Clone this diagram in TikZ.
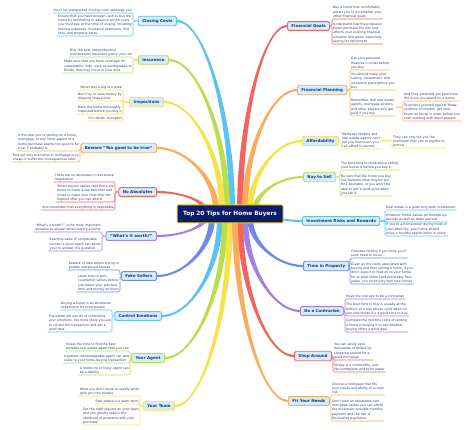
\documentclass[tikz,border=0pt]{standalone}
\usepackage{fontspec}
\setmainfont{DejaVu Sans}
\usetikzlibrary{calc,backgrounds,positioning}
\definecolor{cRed}{HTML}{F2645C}
\definecolor{cOrange}{HTML}{F9AC5E}
\definecolor{cYellow}{HTML}{F6E24C}
\definecolor{cGreen}{HTML}{BADD4E}
\definecolor{cSky}{HTML}{5DC3EE}
\definecolor{cBlue}{HTML}{7088E6}
\definecolor{cPurple}{HTML}{A57FE8}
\definecolor{tFill}{HTML}{D5EEFB}
\definecolor{tText}{HTML}{1B3675}
\definecolor{nText}{HTML}{2A3A78}
\definecolor{rFill}{HTML}{0B1C6A}
\definecolor{rLine}{HTML}{F3D319}
\colorlet{br}{cSky}

% tapered branch: root point #1, topic anchor #2
\newcommand{\branch}[2]{%
  \begin{pgfonlayer}{background}
  \fill[br] let \p1=(#1), \p2=(#2), \n1={((\x2-\x1)/100*(\y2-\y1)/100>0)*2-1} in
    (\x2,\y2+1.1pt) .. controls ({(\x1+\x2)/2},\y2+1.1pt) and (\x1-\n1*3pt,{(\y1+\y2)/2}) ..
    (\x1-\n1*3pt,\y1) -- (\x1+\n1*3pt,\y1) .. controls (\x1+\n1*3pt,{(\y1+\y2)/2}) and ({(\x1+\x2)/2},\y2-1.1pt) ..
    (\x2,\y2-1.1pt) -- cycle;
  \end{pgfonlayer}}
% notes hanging on the left / right of a topic
\newcommand{\lnote}[4]{%
  \node[tnote,anchor=south east] (#1) at (#3) {#4};
  \draw[tline] (#2.west) -| (#1.south east) -- (#1.south west);}
\newcommand{\rnote}[4]{%
  \node[tnote,anchor=south west] (#1) at (#3) {#4};
  \draw[tline] (#2.east) -| (#1.south west) -- (#1.south east);}

\begin{document}
\begin{tikzpicture}[x=1pt,y=-1pt,
  root/.style={fill=rFill,draw=rLine,line width=1pt,rounded corners=1pt,text=white,
    font=\fontsize{5.8}{6}\selectfont\bfseries,minimum width=106pt,minimum height=18pt},
  topic/.style={draw=br,fill=tFill,line width=.9pt,rounded corners=1.5pt,text=tText,
    font=\fontsize{4}{5}\selectfont\bfseries,inner xsep=4pt,inner ysep=2.8pt},
  tnote/.style={font=\fontsize{3.2}{4.2}\selectfont,text=nText,align=left,
    inner xsep=1pt,inner ysep=.8pt},
  tline/.style={draw=br,line width=.6pt,rounded corners=1.5pt}]

\useasboundingbox (0,0) rectangle (474,430);
\node[root] (root) at (230,214) {Top 20 Tips for Home Buyers};

% left side
\colorlet{br}{cSky}
\node[topic,anchor=east] (cc) at (177,21) {Closing Costs};
\branch{232,210}{cc.east}
\lnote{c1}{cc}{133,13}{Don't let unexpected closing costs sabotage you}
\lnote{c2}{cc}{133,36}{Ensure that you have enough cash to buy the\\home by estimating in advance all the costs\\you must pay at the time of closing, including\\moving expenses, insurance premiums, title\\fees, and property taxes}

\colorlet{br}{cGreen}
\node[topic,anchor=east] (ins) at (169,60) {Insurance};
\branch{227,210}{ins.east}
\lnote{i1}{ins}{133,57}{Buy the best comprehensive\\homeowners insurance policy you can}
\lnote{i2}{ins}{133,73}{Make sure that you have coverage for\\catastrophic risks, such as earthquakes or\\floods, that may occur in your area}

\colorlet{br}{cYellow}
\node[topic,anchor=east] (insp) at (164,102) {Inspections};
\branch{222,210}{insp.east}
\lnote{p1}{insp}{123,90}{Never buy a pig in a poke}
\lnote{p2}{insp}{123,101}{Don't try to save money by\\skipping inspections}
\lnote{p3}{insp}{123,114}{Have the home thoroughly\\inspected before you buy it}
\lnote{p4}{insp}{123,121}{If in doubt, reinspect}

\colorlet{br}{cOrange}
\node[topic,anchor=east] (bew) at (157,148) {Beware ``Too good to be true''};
\branch{216,210}{bew.east}
\lnote{b1}{bew}{80,151}{If the deal you're getting on a home,\\mortgage, or any other aspect of a\\home purchase seems too good to be\\true, it probably is}
\lnote{b2}{bew}{80,162}{Find out why the home or mortgage is so\\cheap or suffer the consequences later}

\colorlet{br}{cRed}
\node[topic,anchor=east] (noa) at (157,192) {No Absolutes};
\branch{205,210}{noa.east}
\lnote{a1}{noa}{115,182}{There are no absolutes in real estate\\negotiation}
\lnote{a2}{noa}{115,202}{Smart buyers realize that there are\\times to make a low-ball offer and\\times to make your final offer the\\highest offer you can afford}
\lnote{a3}{noa}{115,210}{And remember that everything is negotiable}

\colorlet{br}{cPurple}
\node[topic,anchor=east] (ww) at (157,236) {``What's it worth?''};
\branch{205,218}{ww.east}
\lnote{w1}{ww}{102,232}{``What's it worth?'' is the most important\\question to answer when buying a home}
\lnote{w2}{ww}{102,251}{Examine sales of comparable\\homes (a good agent can assist\\you) to answer this question}

\colorlet{br}{cBlue}
\node[topic,anchor=east] (fs) at (157,276) {Fake Sellers};
\branch{212,218}{fs.east}
\lnote{f1}{fs}{120,270}{Beware of fake sellers trying to\\peddle overpriced houses}
\lnote{f2}{fs}{120,292}{Learn how to spot\\counterfeit sellers before\\you waste your precious\\time and money on them}

\colorlet{br}{cSky}
\node[topic,anchor=east] (ce) at (162,316) {Control Emotions};
\branch{220,218}{ce.east}
\lnote{e1}{ce}{112,310}{Buying a home is an emotional\\experience for most people}
\lnote{e2}{ce}{112,332}{The better job you do of controlling\\your emotions, the more likely you are\\to control the transaction and get a\\good deal}

\colorlet{br}{cGreen}
\node[topic,anchor=east] (ya) at (165,358) {Your Agent};
\branch{225,218}{ya.east}
\lnote{g1}{ya}{130,351}{Invest the time to find the best\\possible real estate agent that you can}
\lnote{g2}{ya}{130,363}{A patient, knowledgeable agent can add\\value to your home-buying transaction}
\lnote{g3}{ya}{130,375}{A mediocre or lousy agent can\\be a liability}

\colorlet{br}{cYellow}
\node[topic,anchor=east] (yt) at (175,406) {Your Team};
\branch{230,218}{yt.east}
\lnote{t1}{yt}{140,396}{What you don't know is usually what\\gets you into trouble}
\lnote{t2}{yt}{140,404}{Real estate is a team sport}
\lnote{t3}{yt}{140,425}{Get the right players on your team\\and you greatly reduce the\\likelihood of problems with your\\purchase}

% right side
\colorlet{br}{cRed}
\node[topic,anchor=west] (fg) at (287,26) {Financial Goals};
\branch{240,210}{fg.west}
\rnote{o1}{fg}{332,19}{Buy a home that comfortably\\allows you to accomplish your\\other financial goals}
\rnote{o2}{fg}{332,44}{Understand how the proposed\\home purchase fits into and\\affects your existing financial\\situation and goals, especially\\saving for retirement}

\colorlet{br}{cOrange}
\node[topic,anchor=west] (fp) at (297,90) {Financial Planning};
\branch{245,210}{fp.west}
\rnote{l1}{fp}{350,70}{Get your personal\\finances in order before\\you buy}
\rnote{l2}{fp}{350,90}{You should make your\\saving, investment, and\\insurance plans before you\\buy}
\rnote{l3}{fp}{350,116}{Remember that real estate\\agents, mortgage lenders,\\and other players only get\\paid if you buy}
\rnote{l4}{l3}{403,101}{And they generally get paid more\\the more you spend on a home}
\rnote{l5}{l3}{403,121}{To protect yourself against these\\conflicts of interest, get your\\financial house in order before you\\start working with these players}

\colorlet{br}{cYellow}
\node[topic,anchor=west] (aff) at (302,141) {Affordability};
\branch{250,210}{aff.west}
\rnote{m1}{aff}{341,149}{Mortgage lenders and\\real estate agents can't\\tell you how much you\\can afford to borrow}
\rnote{m2}{m1}{392,148}{They can only tell you the\\maximum that you're eligible to\\borrow}

\colorlet{br}{cGreen}
\node[topic,anchor=west] (bts) at (303,177) {Buy to Sell};
\branch{255,210}{bts.west}
\rnote{s1}{bts}{340,170}{The best time to think about selling\\your house is before you buy it}
\rnote{s2}{bts}{340,196}{Be sure that the home you buy\\has features other buyers will\\find desirable, or you won't be\\able to get a good price when\\you sell it}

\colorlet{br}{cSky}
\node[topic,anchor=west] (irr) at (302,221) {Investment Risks and Rewards};
\branch{270,214}{irr.west}
\rnote{v1}{irr}{385,210}{Real estate is a good long-term investment}
\rnote{v2}{irr}{385,222}{However, home values go through up\\periods as well as down periods}
\rnote{v3}{irr}{385,236}{If you're a homeowner during most of\\your adult life, your home should\\enjoy a healthy appreciation in value}

\colorlet{br}{cBlue}
\node[topic,anchor=west] (tip) at (303,266) {Time in Property};
\branch{250,218}{tip.west}
\rnote{d1}{tip}{350,258}{Consider renting if you think you'll\\soon need to move}
\rnote{d2}{tip}{350,284}{Given all the costs associated with\\buying and then selling a home, if you\\don't expect to hold on to your home\\for at least three (and preferably five)\\years, you could very well lose money}

\colorlet{br}{cPurple}
\node[topic,anchor=west] (bac) at (300,311) {Be a Contrarian};
\branch{245,218}{bac.west}
\rnote{k1}{bac}{345,299}{Have the courage to be a contrarian}
\rnote{k2}{bac}{345,316}{The best time to buy is usually at the\\bottom of a real estate cycle when no\\one else thinks it's a good time to buy}
\rnote{k3}{bac}{345,332}{Compare the monthly costs of renting\\a home to buying it to see whether\\buying offers a good deal}

\colorlet{br}{cRed}
\node[topic,anchor=west] (sa) at (294,356) {Shop Around};
\branch{240,218}{sa.west}
\rnote{h1}{sa}{333,360}{You can easily save\\thousands of dollars by\\shopping around for a\\good mortgage}
\rnote{h2}{sa}{333,372}{Money is a commodity, just\\like toothpaste and toilet paper}

\colorlet{br}{cOrange}
\node[topic,anchor=west] (fyn) at (288,401) {Fit Your Needs};
\branch{235,218}{fyn.west}
\rnote{n1}{fyn}{331,395}{Choose a mortgage that fits\\your needs and ability to accept\\risk}
\rnote{n2}{fyn}{331,421}{Don't take an adjustable-rate\\mortgage unless you can afford\\the maximum possible monthly\\payment and the risk of\\fluctuating payments}
\end{tikzpicture}
\end{document}
